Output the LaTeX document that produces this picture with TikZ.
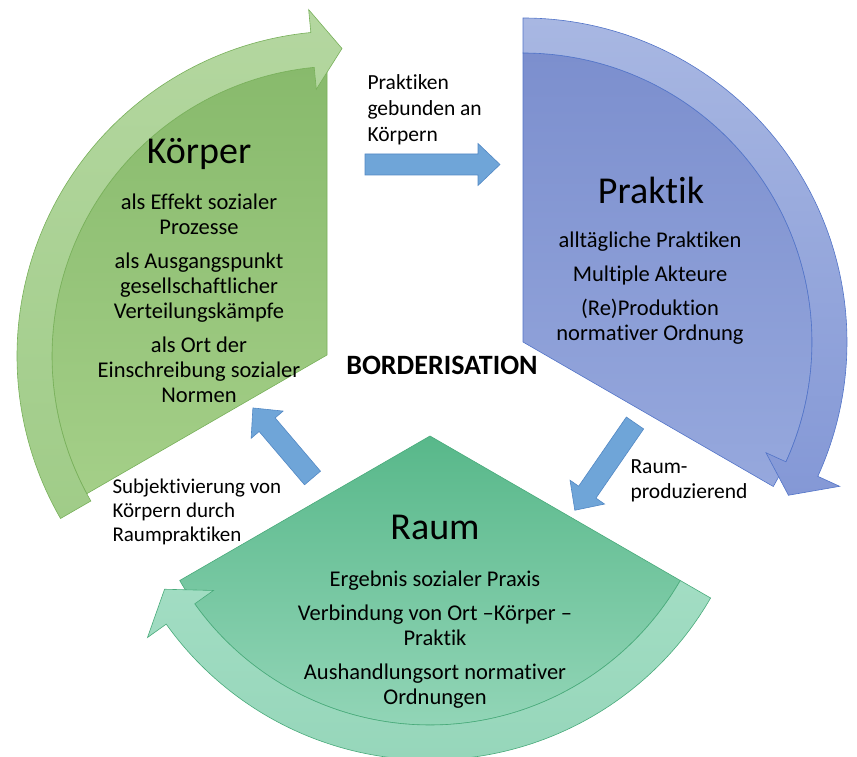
\documentclass[tikz,border=0pt]{standalone}
\usepackage{fontspec}
\setmainfont{Carlito}[Ligatures=NoCommon]
\usetikzlibrary{calc}

\definecolor{koerpertop}{RGB}{136,186,108}
\definecolor{koerperbottom}{RGB}{164,207,136}
\definecolor{koerperbandtop}{RGB}{180,215,160}
\definecolor{koerperbandbottom}{RGB}{160,204,136}
\definecolor{koerperline}{RGB}{120,176,90}
\definecolor{praktiktop}{RGB}{124,143,206}
\definecolor{praktikbottom}{RGB}{150,168,221}
\definecolor{praktikbandtop}{RGB}{168,183,226}
\definecolor{praktikbandbottom}{RGB}{132,152,214}
\definecolor{praktikline}{RGB}{82,116,200}
\definecolor{raumtop}{RGB}{88,184,138}
\definecolor{raumbottom}{RGB}{154,217,189}
\definecolor{raumbandtop}{RGB}{162,221,195}
\definecolor{raumbandbottom}{RGB}{150,214,186}
\definecolor{raumline}{RGB}{72,170,122}
\definecolor{arrowblue}{RGB}{111,165,216}
\definecolor{arrowedge}{RGB}{82,136,196}

% block arrow: tail x, tail y, direction, length
\newcommand{\blockarrow}[4]{%
  \draw[arrowfill, shift={(#1,#2)}, rotate=#3] (0,-10.5) -- ({#4-22},-10.5) -- ({#4-22},-21) -- (#4,0) -- ({#4-22},21) -- ({#4-22},10.5) -- (0,10.5) -- cycle;}

\begin{document}
\begin{tikzpicture}[x=1pt,y=1pt,
  edge/.style={line width=0.6pt},
  titletext/.style={font=\fontsize{38}{44}\selectfont},
  bodytext/.style={align=center, font=\fontsize{22.5}{25}\selectfont},
  labeltext/.style={align=left, anchor=west, font=\fontsize{21.5}{26}\selectfont},
  arrowfill/.style={fill=arrowblue, draw=arrowedge, line width=0.6pt}]
\useasboundingbox (0,0) rectangle (857,756);
\coordinate (ak) at (327,401);
\coordinate (ck) at (342,400);
\coordinate (cp) at (523,414);
\coordinate (cr) at (430,320);

% Koerper segment
\draw[edge, draw=koerperline, top color=koerpertop, bottom color=koerperbottom] (ak) -- (327,689.6) arc[start angle=92.97, end angle=208.35, radius=290pt] -- cycle;
\draw[edge, draw=koerperline, top color=koerperbandtop, bottom color=koerperbandbottom] ($(ck)+(210:325pt)$) arc[start angle=210, end angle=95.5, radius=325pt] -- ($(ck)+(95.5:348pt)$) -- ($(ck)+(90:307.5pt)$) -- ($(ck)+(95.5:268pt)$) -- ($(ck)+(95.5:290pt)$) arc[start angle=95.5, end angle=210, radius=290pt] -- cycle;

% Praktik segment
\draw[edge, draw=praktikline, top color=praktiktop, bottom color=praktikbottom] (cp) -- ($(cp)+(90:289pt)$) arc[start angle=90, end angle=-30, radius=289pt] -- cycle;
\draw[edge, draw=praktikline, top color=praktikbandtop, bottom color=praktikbandbottom] ($(cp)+(90:324pt)$) arc[start angle=90, end angle=-24.5, radius=324pt] -- ($(cp)+(-24.5:348pt)$) -- ($(cp)+(-30:306.5pt)$) -- ($(cp)+(-24.5:267pt)$) -- ($(cp)+(-24.5:289pt)$) arc[start angle=-24.5, end angle=90, radius=289pt] -- cycle;

% Raum segment
\draw[edge, draw=raumline, top color=raumtop, bottom color=raumbottom] (cr) -- ($(cr)+(210:289pt)$) arc[start angle=210, end angle=330, radius=289pt] -- cycle;
\draw[edge, draw=raumline, top color=raumbandtop, bottom color=raumbandbottom] ($(cr)+(330:324pt)$) arc[start angle=330, end angle=215.5, radius=324pt] -- ($(cr)+(215.5:347pt)$) -- ($(cr)+(210:306.5pt)$) -- ($(cr)+(215.5:266pt)$) -- ($(cr)+(215.5:289pt)$) arc[start angle=215.5, end angle=330, radius=289pt] -- cycle;

% texts
\node[titletext] (koerper) at (199,602) {Körper};
\node[bodytext] (koerpertext) at (199,458) {als Effekt sozialer\\Prozesse\\[9pt]als Ausgangspunkt\\gesellschaftlicher\\Verteilungskämpfe\\[9pt]als Ort der\\Einschreibung sozialer\\Normen};
\node[titletext] (praktik) at (651,566) {Praktik};
\node[bodytext] (praktiktext) at (650,468) {alltägliche Praktiken\\[9pt]Multiple Akteure\\[9pt](Re)Produktion\\normativer Ordnung};
\node[titletext] (raum) at (435,229) {Raum};
\node[bodytext] (raumtext) at (435,116) {Ergebnis sozialer Praxis\\[9pt]Verbindung von Ort –Körper –\\Praktik\\[9pt]Aushandlungsort normativer\\Ordnungen};
\node[font=\bfseries\fontsize{28}{32}\selectfont] (border) at (442,391) {BORDERISATION};

% transitions
\blockarrow{365}{591.5}{0}{135}
\blockarrow{635}{333}{235.4}{106}
\blockarrow{312.5}{278}{130.4}{92}
\node[labeltext] (bindung) at (364,646) {Praktiken\\gebunden an\\Körpern};
\node[labeltext, font=\fontsize{21.5}{25}\selectfont] (produktion) at (627,275) {Raum-\\produzierend};
\node[labeltext, font=\fontsize{21}{24}\selectfont] (subjekt) at (109,244) {Subjektivierung von\\Körpern durch\\Raumpraktiken};
\end{tikzpicture}
\end{document}
